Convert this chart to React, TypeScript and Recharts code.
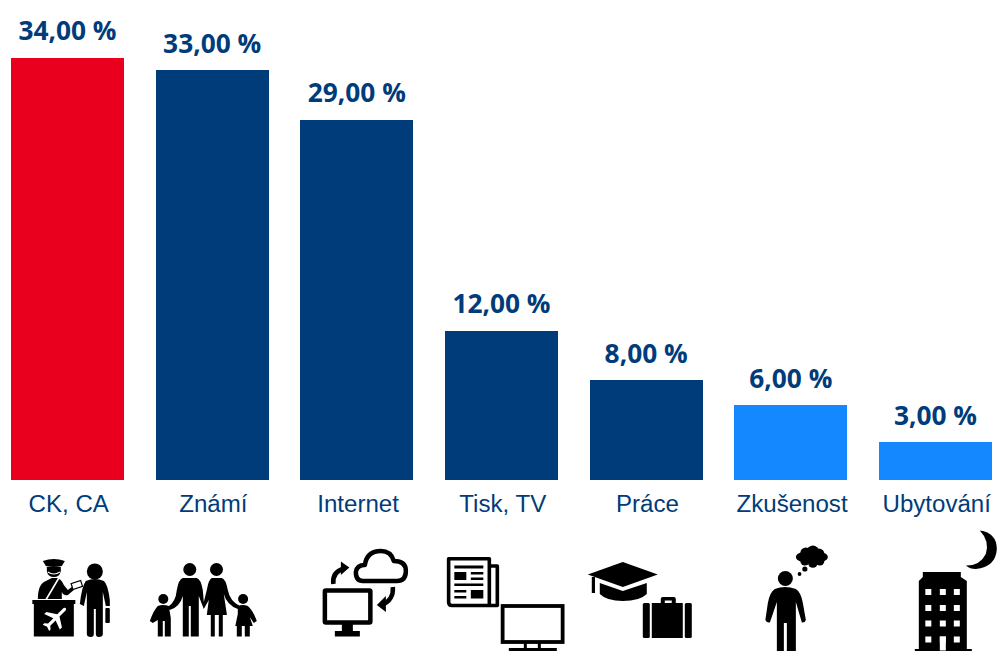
import React from "react";
import { BarChart, Bar, XAxis, YAxis, Cell, LabelList } from "recharts";

const categories = ["CK, CA", "Známí", "Internet", "Tisk, TV", "Práce", "Zkušenost", "Ubytování"];
const values = [34, 33, 29, 12, 8, 6, 3];
const barColors = ["#e8001e", "#003c7a", "#003c7a", "#003c7a", "#003c7a", "#1489ff", "#1489ff"];
const rows = categories.map((name, i) => ({ name, value: values[i] }));

const NAVY = "#003c7a";
const INK = "#000";

const formatPct = (v: number) => `${v.toFixed(2).replace(".", ",")} %`;

function AgentIcon() {
  return (
    <g fill={INK}>
      <path d="M43 561 Q54 557 65 561 L62 566 Q54 568 46 566 Z" />
      <path d="M47 567 H61 V571 Q60 577 54 577 Q48 577 47 571 Z" />
      <path d="M48 572 Q54 576 60 572" fill="none" stroke="#fff" strokeWidth="1.2" />
      <path d="M38 599 Q38 584 46 581 L52 578 L58 578 Q62 580 64 585 L68 590 L72 587 L74 590 L68 595 Q64 596 62 592 V599 Z" />
      <path d="M46 600 L59 578" stroke="#fff" strokeWidth="1.6" />
      <rect x="72" y="582" width="10" height="6" fill="#fff" stroke={INK} strokeWidth="1.2" transform="rotate(-18 77 585)" />
      <rect x="32.5" y="600" width="43" height="4" />
      <rect x="34" y="603" width="40" height="33.5" />
      <g transform="rotate(45 55 619)" fill="#fff">
        <path d="M53.4 605 Q55 602 56.6 605 V614 L66 620 V623 L56.6 619.5 V627 L59.5 629.5 V631.5 L55 630 L50.5 631.5 V629.5 L53.4 627 V619.5 L44 623 V620 L53.4 614 Z" />
      </g>
      <circle cx="95" cy="571.5" r="8" />
      <path d="M86 581 Q95 577 104 581 Q108 584 110 600 L110 606 L106 606 L103 592 V634 Q103 637 99 637 Q96 637 96 634 V609 H94 V634 Q94 637 91 637 Q87 637 87 634 V592 L84 606 L80 604 Q82 586 86 581 Z" />
      <rect x="105.5" y="608" width="4.5" height="15" rx="1" />
    </g>
  );
}

function FamilyIcon() {
  return (
    <g fill={INK}>
      <circle cx="190" cy="569.5" r="6.5" />
      <circle cx="216.7" cy="569.5" r="6.5" />
      <circle cx="163.5" cy="599" r="5" />
      <circle cx="243.3" cy="599" r="5" />
      <path d="M183 578 H197 Q201 579 203 590 L204 602 L207 590 Q209 579 212 578 H222 Q226 579 228 590 Q230 601 240 606 L238 609 Q227 605 224 594 L227 614 V615 H223 V636.5 H219 V615 H215 V636.5 H211 V615 H207 L209 600 L204 609 L199 596 V636.5 H191 V606 H189 V636.5 H183 V596 Q180 607 170 610 L168 607 Q176 602 177 590 Q179 579 183 578 Z" />
      <path d="M158 606 Q163 604 169 606 L171 618 V636.5 H165 V621 H163 V636.5 H158 V620 L153 623 L150 621 Q154 610 158 606 Z" />
      <path d="M238 606 Q243 604 248 606 Q253 610 257 621 L254 623 L250 617 L253 626 H250 V636.5 H245 V626 H242 V636.5 H237 V626 H235.5 L238 614 Z" />
    </g>
  );
}

function InternetIcon() {
  return (
    <g fill="none" stroke={INK} strokeWidth="4.5" strokeLinejoin="round">
      <path d="M363 581 Q356 581 356 572 Q357 565 365 565 Q367 551 381 551 Q391 551 394 561 Q406 561 406 571 Q406 581 397 581 Z" />
      <rect x="325" y="590.5" width="45.5" height="32" rx="1" />
      <rect x="342" y="623" width="11" height="8" fill={INK} stroke="none" />
      <rect x="335" y="631" width="25" height="5.5" fill={INK} stroke="none" />
      <path d="M333.5 584 Q332 572 344 568.5" />
      <path d="M393 587 Q394 600 382 605" />
      <path d="M341 561.5 L349.5 567.5 L341 575 Z" fill={INK} stroke="none" />
      <path d="M386 596 L377 605 L386 612 Z" fill={INK} stroke="none" />
    </g>
  );
}

function MediaIcon() {
  return (
    <g>
      <path d="M489.5 566 H497.5 V605.5 H452 Q448.8 605.5 448.8 602 V558.8 H489.5 V605" fill="none" stroke={INK} strokeWidth="3.6" strokeLinejoin="round" />
      <g fill={INK}>
        <rect x="454.5" y="565.5" width="29" height="3" />
        <rect x="454.5" y="572" width="12" height="8" />
        <rect x="471" y="572" width="12.5" height="2.5" />
        <rect x="471" y="577.5" width="12.5" height="2.5" />
        <rect x="454.5" y="583.5" width="29" height="2.5" />
        <rect x="454.5" y="590" width="12" height="2.5" />
        <rect x="454.5" y="596" width="12" height="2.5" />
        <rect x="471" y="590" width="12.5" height="8.5" />
      </g>
      <rect x="502.8" y="606" width="60" height="36" fill="none" stroke={INK} strokeWidth="3.8" />
      <rect x="524" y="643" width="3" height="6" fill={INK} />
      <rect x="538" y="643" width="3" height="6" fill={INK} />
      <rect x="509" y="648" width="48" height="3" fill={INK} />
    </g>
  );
}

function WorkIcon() {
  return (
    <g fill={INK}>
      <path d="M623 562 L658 574.5 L623 587 L588 574.5 Z" />
      <path d="M600 583 L623 591 L647 583 V594 Q640 601 623 601 Q607 601 600 594 Z" />
      <rect x="592" y="577" width="3.2" height="16" />
      <path d="M661 603 V599 Q661 597 663 597 H674 Q676 597 676 599 V603 H672 V600.5 H665 V603 Z" />
      <rect x="643" y="603" width="7" height="35" rx="1.5" />
      <rect x="652" y="603" width="31" height="35" />
      <rect x="685" y="603" width="7" height="35" rx="1.5" />
    </g>
  );
}

function ThinkerIcon() {
  return (
    <g fill={INK}>
      <circle cx="785.5" cy="578.5" r="7.5" />
      <path d="M775 589 Q785 585 796 589 Q801 592 803 603 L806 620 Q805 623 802 622.5 L796 602 V651 H787 V623 H784 V651 H777 V602 L770 622.5 Q767 623 765.5 620 L768 603 Q770 592 775 589 Z" />
      <ellipse cx="812" cy="557" rx="16" ry="6.5" />
      <circle cx="806" cy="553" r="5.5" />
      <circle cx="813" cy="551.5" r="6" />
      <circle cx="819" cy="554" r="5.5" />
      <circle cx="805" cy="561" r="4.5" />
      <circle cx="813" cy="563" r="4.8" />
      <circle cx="820" cy="561" r="4.5" />
      <circle cx="805" cy="569" r="2.6" />
      <circle cx="799.7" cy="574" r="1.9" />
    </g>
  );
}

function HotelIcon() {
  const cols = [925.5, 940, 954];
  const rowsY = [589, 605, 620.5, 636.5];
  return (
    <g>
      <path d="M919 651 V581 L923 577 V572 H961 V577 L967 581 V651 Z" fill={INK} />
      <rect x="915" y="649" width="57" height="2" fill={INK} />
      {rowsY.map((y) => cols.map((x) => (
        <rect key={`${x}-${y}`} x={x} y={y} width="6" height="6" fill="#fff" />
      )))}
      <rect x="940" y="636.5" width="6" height="14" fill="#fff" />
      <path d="M980 530.5 Q997 533 997 549 Q996 567 976 569 Q970 569 966 565.5 Q980 566 986 554 Q990 541 980 530.5 Z" fill={INK} />
    </g>
  );
}

const icons = [
  { center: 67.5, Icon: AgentIcon },
  { center: 212.2, Icon: FamilyIcon },
  { center: 356.8, Icon: InternetIcon },
  { center: 501.5, Icon: MediaIcon },
  { center: 646.2, Icon: WorkIcon },
  { center: 790.8, Icon: ThinkerIcon },
  { center: 935.5, Icon: HotelIcon },
];

function CategoryTick({ x, payload, index }: any) {
  const entry = icons[index];
  const Icon = entry?.Icon;
  return (
    <g>
      <text x={x + 1.4} y={512} textAnchor="middle" fontFamily="'Liberation Sans', Arial, sans-serif" fontSize={24.1} fill={NAVY}>
        {payload.value}
      </text>
      {Icon ? (
        <g transform={`translate(${x - entry.center} 0)`}>
          <Icon />
        </g>
      ) : null}
    </g>
  );
}

export default function App() {
  return (
    <div style={{ position: "absolute", left: 0, top: 0, width: 997, height: 651, overflow: "hidden", background: "#fff" }}>
      <div style={{ position: "absolute", left: -4.83, top: 0 }}>
        <BarChart
          width={1012.67}
          height={651}
          data={rows}
          margin={{ top: 57.6, right: 0, bottom: 0, left: 0 }}
          barCategoryGap={0}
        >
          <YAxis hide domain={[0, 34]} />
          <XAxis
            dataKey="name"
            height={171.4}
            interval={0}
            axisLine={false}
            tickLine={false}
            tick={<CategoryTick />}
          />
          <Bar dataKey="value" barSize={113} isAnimationActive={false} shapeRendering="crispEdges">
            {rows.map((r, i) => (
              <Cell key={r.name} fill={barColors[i]} />
            ))}
            <LabelList
              dataKey="value"
              position="top"
              offset={17.5}
              formatter={formatPct as any}
              style={{ fontFamily: "'Open Sans', sans-serif", fontWeight: 700, fontSize: 26.3, fill: NAVY }}
            />
          </Bar>
        </BarChart>
      </div>
    </div>
  );
}
